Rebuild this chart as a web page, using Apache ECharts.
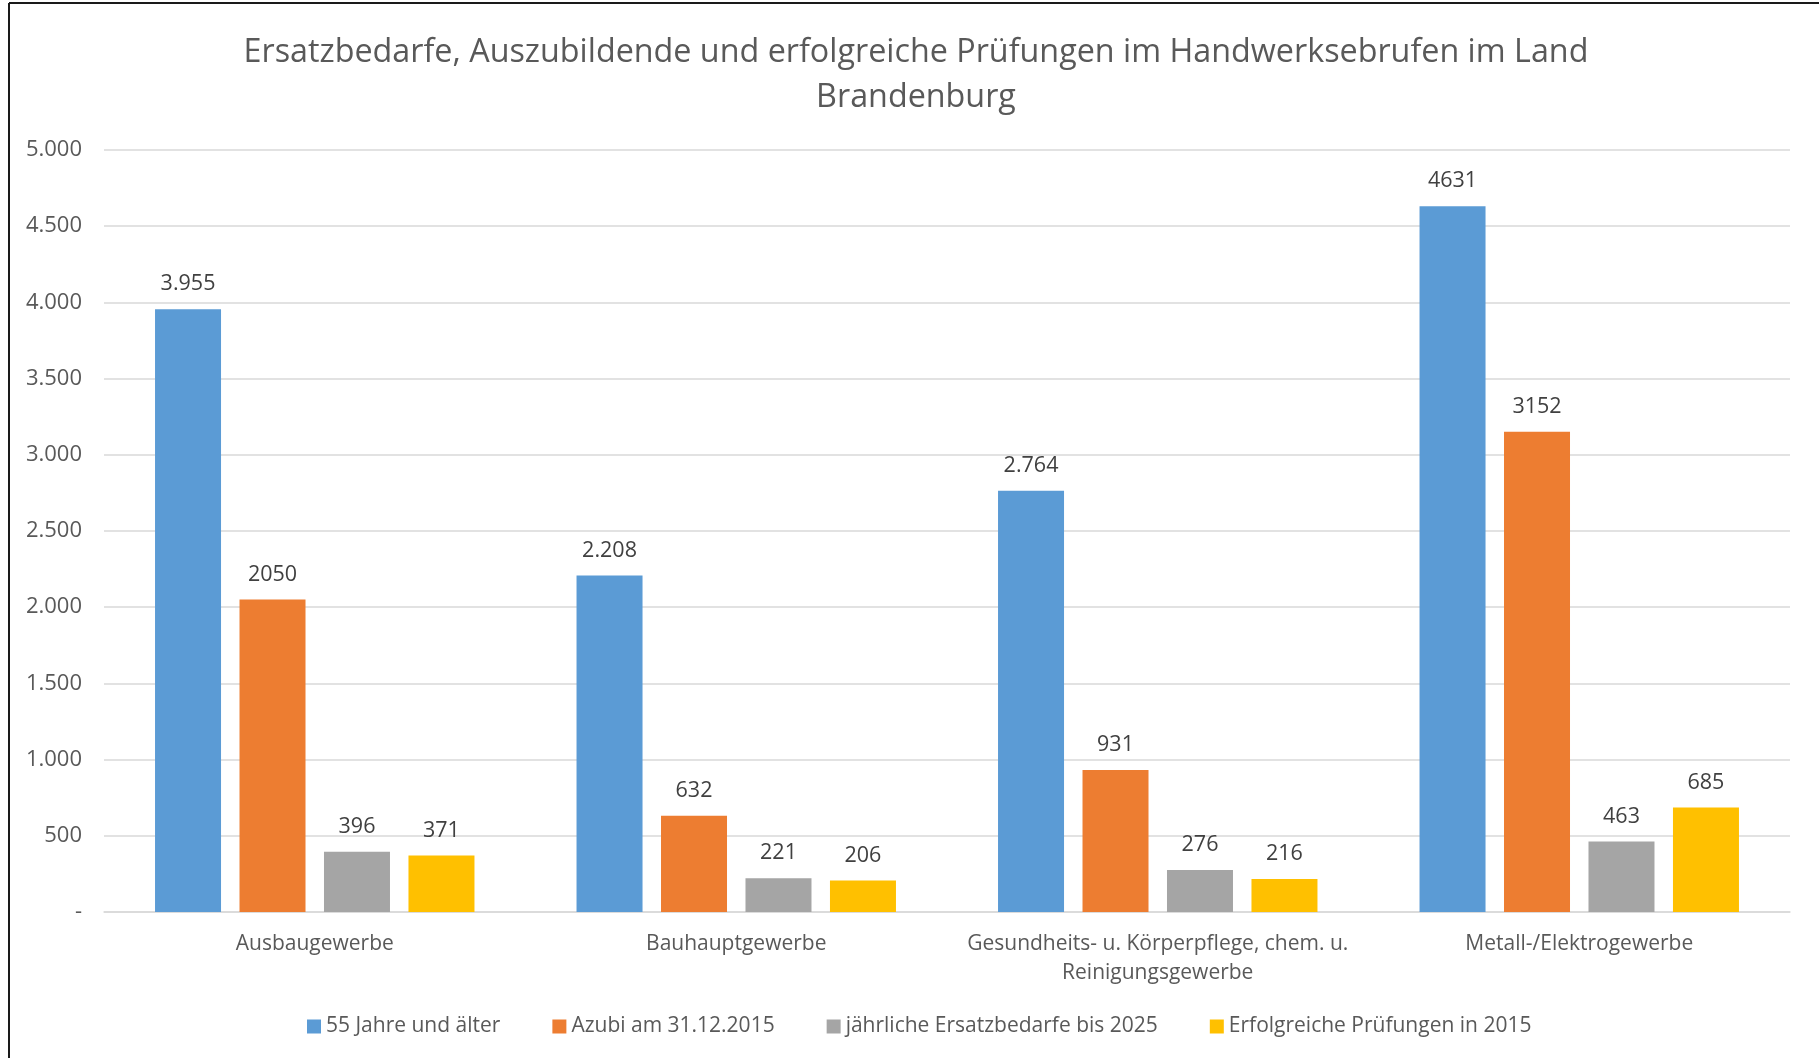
<!DOCTYPE html>
<html>
<head>
<meta charset="utf-8">
<script src="https://cdn.jsdelivr.net/npm/echarts@6/dist/echarts.min.js"></script>
<style>
    html, body { margin: 0; padding: 0; background: #fff; }
    #chart { width: 1819px; height: 1058px; }
</style>
</head>
<body>
<div id="chart"></div>
<script>
    // Kategorien (x-Achse)
    const categories = [
        'Ausbaugewerbe',
        'Bauhauptgewerbe',
        'Gesundheits- u. Körperpflege, chem. u.\nReinigungsgewerbe',
        'Metall-/Elektrogewerbe'
    ];
    const seriesNames = [
        '55 Jahre und älter',
        'Azubi am 31.12.2015',
        'jährliche Ersatzbedarfe bis 2025',
        'Erfolgreiche Prüfungen in 2015'
    ];
    const ueber55 = [3955, 2208, 2764, 4631];
    const azubi = [2050, 632, 931, 3152];
    const ersatzbedarf = [396, 221, 276, 463];
    const pruefungen = [371, 206, 216, 685];
    // Beschriftungen der blauen Balken (im Original teils mit Tausenderpunkt)
    const ueber55Labels = ['3.955', '2.208', '2.764', '4631'];
    const colors = ['#5B9BD5', '#ED7D31', '#A5A5A5', '#FFC000'];

    const font = '"Open Sans", "Noto Sans", sans-serif';

    function makeSeries (name, data, color, labels) {
        return {
            name: name,
            type: 'bar',
            data: data,
            barWidth: 66,
            barGap: '28%',
            itemStyle: { color: color },
            label: {
                show: true,
                position: 'top',
                distance: 14,
                fontFamily: font,
                fontSize: 21.5,
                color: '#404040',
                formatter: function (p) {
                    return labels ? labels[p.dataIndex] : String(p.value);
                }
            }
        };
    }

    const chart = echarts.init(document.getElementById('chart'));
    chart.setOption({
        backgroundColor: '#fff',
        animation: false,
        title: {
            text: 'Ersatzbedarfe, Auszubildende und erfolgreiche Prüfungen im Handwerksebrufen im Land\nBrandenburg',
            left: 911,
            top: 25,
            textAlign: 'center',
            textStyle: {
                fontFamily: font,
                fontSize: 32.3,
                fontWeight: 'normal',
                color: '#595959',
                lineHeight: 45
            }
        },
        legend: {
            data: seriesNames,
            left: 302,
            top: 1011,
            icon: 'rect',
            itemWidth: 14,
            itemHeight: 14,
            itemGap: 52,
            textStyle: { fontFamily: font, fontSize: 21, color: '#595959' }
        },
        grid: { left: 104, right: 29, top: 150, bottom: 146, containLabel: false },
        xAxis: {
            type: 'category',
            data: categories,
            axisTick: { show: false },
            axisLine: { lineStyle: { color: '#d9d9d9', width: 1.5 } },
            axisLabel: {
                fontFamily: font,
                fontSize: 21,
                color: '#595959',
                margin: 18,
                lineHeight: 29,
                interval: 0
            }
        },
        yAxis: {
            type: 'value',
            min: 0,
            max: 5000,
            interval: 500,
            axisLine: { show: false },
            axisTick: { show: false },
            splitLine: { lineStyle: { color: '#d9d9d9', width: 1.5 } },
            axisLabel: {
                fontFamily: font,
                fontSize: 22,
                color: '#595959',
                margin: 22,
                formatter: function (v) {
                    if (v === 0) return '-';
                    return v.toLocaleString('de-DE');
                }
            }
        },
        series: [
            makeSeries(seriesNames[0], ueber55, colors[0], ueber55Labels),
            makeSeries(seriesNames[1], azubi, colors[1]),
            makeSeries(seriesNames[2], ersatzbedarf, colors[2]),
            makeSeries(seriesNames[3], pruefungen, colors[3])
        ],
        graphic: [
            { type: 'line', shape: { x1: 9, y1: 3, x2: 1819, y2: 3 }, style: { stroke: '#1a1a1a', lineWidth: 2 } },
            { type: 'line', shape: { x1: 9, y1: 3, x2: 9, y2: 1058 }, style: { stroke: '#1a1a1a', lineWidth: 2 } }
        ]
    });
</script>
</body>
</html>
